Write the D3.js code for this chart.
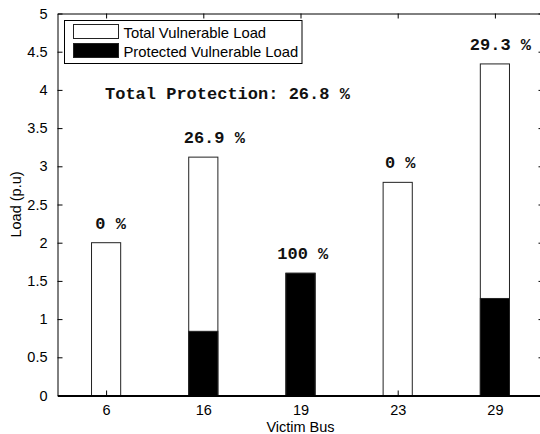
<!DOCTYPE html>
<html>
<head>
<meta charset="utf-8">
<script src="https://cdn.jsdelivr.net/npm/d3@7"></script>
<style>
  html, body { margin: 0; padding: 0; background: #fff; }
  svg { display: block; }
  .sans { font-family: "Liberation Sans", Arial, sans-serif; }
  .mono { font-family: "Liberation Mono", "Courier New", monospace; font-weight: bold; }
</style>
</head>
<body>
<svg id="chart" width="540" height="434"></svg>
<script>
// Victim buses and their vulnerable load (p.u.)
const buses = ["6", "16", "19", "23", "29"];
const totalLoad = [2.0, 3.12, 1.6, 2.79, 4.34];
const protectedLoad = [0, 0.84, 1.6, 0, 1.27];
const yTickValues = [0, 0.5, 1, 1.5, 2, 2.5, 3, 3.5, 4, 4.5, 5];
const seriesNames = ["Total Vulnerable Load", "Protected Vulnerable Load"];

// horizontal nudge (px) of each percentage label relative to its bar centre
const labelNudge = [4.5, 11, 2.3, 2.5, 5.5];

(function draw() {
  const svg = d3.select("#chart");
  const pL = 57.5, pR = 543.5, pT = 13.5, pB = 395.5;

  const x = d3.scaleLinear().domain([0.5, buses.length + 0.5]).range([pL, pR]);
  const y = d3.scaleLinear().domain([0, 5]).range([pB, pT]);
  const barW = x(1.3) - x(1);
  const idx = d3.range(1, buses.length + 1);

  const fmtPct = v => String(+(v).toFixed(1));

  // bars: total (white) with protected (black) part drawn over it
  const g = svg.append("g");
  g.selectAll("rect.total").data(idx).join("rect")
    .attr("class", "total")
    .attr("x", i => x(i) - barW / 2)
    .attr("width", barW)
    .attr("y", i => y(totalLoad[i - 1]))
    .attr("height", i => y(0) - y(totalLoad[i - 1]))
    .attr("fill", "#fff").attr("stroke", "#222").attr("stroke-width", 1);

  g.selectAll("rect.prot").data(idx.filter(i => protectedLoad[i - 1] > 0)).join("rect")
    .attr("class", "prot")
    .attr("x", i => x(i) - barW / 2)
    .attr("width", barW)
    .attr("y", i => y(protectedLoad[i - 1]))
    .attr("height", i => y(0) - y(protectedLoad[i - 1]))
    .attr("fill", "#000").attr("stroke", "#222").attr("stroke-width", 1);

  // percentage labels above bars
  g.selectAll("text.pct").data(idx).join("text")
    .attr("class", "mono")
    .attr("x", i => x(i) + labelNudge[i - 1])
    .attr("y", i => y(totalLoad[i - 1]) - 14)
    .attr("text-anchor", "middle")
    .attr("font-size", "17px")
    .attr("fill", "#111")
    .text(i => fmtPct(protectedLoad[i - 1] / totalLoad[i - 1] * 100) + " %");

  // overall protection
  const totalPct = d3.sum(protectedLoad) / d3.sum(totalLoad) * 100;
  svg.append("text")
    .attr("class", "mono")
    .attr("x", 105).attr("y", 99)
    .attr("font-size", "17px")
    .attr("fill", "#111")
    .text("Total Protection: " + fmtPct(totalPct) + " %");

  // axes (ticks pointing inward on all four sides)
  const axB = svg.append("g").attr("transform", `translate(0,${pB})`)
    .call(d3.axisBottom(x).tickValues(idx).tickFormat(i => buses[i - 1]).tickSizeInner(-5).tickSizeOuter(0).tickPadding(9));
  const axT = svg.append("g").attr("transform", `translate(0,${pT})`)
    .call(d3.axisTop(x).tickValues(idx).tickFormat("").tickSizeInner(-5).tickSizeOuter(0));
  const axL = svg.append("g").attr("transform", `translate(${pL},0)`)
    .call(d3.axisLeft(y).tickValues(yTickValues).tickFormat(d3.format("")).tickSizeInner(-5).tickSizeOuter(0).tickPadding(10));
  const axR = svg.append("g").attr("transform", `translate(${pR},0)`)
    .call(d3.axisRight(y).tickValues(yTickValues).tickFormat("").tickSizeInner(-5).tickSizeOuter(0));

  [axB, axT, axL, axR].forEach(a => {
    a.select(".domain").attr("stroke", "#000").attr("stroke-width", 1);
    a.selectAll(".tick line").attr("stroke", "#000");
    a.selectAll("text").attr("class", "sans").attr("font-size", "14.5px").attr("fill", "#000");
  });
  axB.select(".domain").attr("stroke-width", 2);

  // axis titles
  svg.append("text").attr("class", "sans")
    .attr("x", x(3)).attr("y", 431.5)
    .attr("text-anchor", "middle").attr("font-size", "14.5px")
    .text("Victim Bus");
  svg.append("text").attr("class", "sans")
    .attr("transform", `translate(20.5,${(pT + pB) / 2}) rotate(-90)`)
    .attr("text-anchor", "middle").attr("font-size", "14.5px")
    .text("Load (p.u)");

  // legend
  const lg = svg.append("g");
  lg.append("rect").attr("x", 64.5).attr("y", 20.5).attr("width", 237.5).attr("height", 43)
    .attr("fill", "#fff").attr("stroke", "#000").attr("stroke-width", 1);
  const fills = ["#fff", "#000"];
  seriesNames.forEach((name, k) => {
    lg.append("rect").attr("x", 73.5).attr("y", 24.5 + k * 19).attr("width", 45).attr("height", 14)
      .attr("fill", fills[k]).attr("stroke", "#222").attr("stroke-width", 1);
    lg.append("text").attr("class", "sans").attr("x", 123.5).attr("y", 38 + k * 18.5)
      .attr("font-size", "14.8px").attr("fill", "#000").text(name);
  });
})();
</script>
</body>
</html>
